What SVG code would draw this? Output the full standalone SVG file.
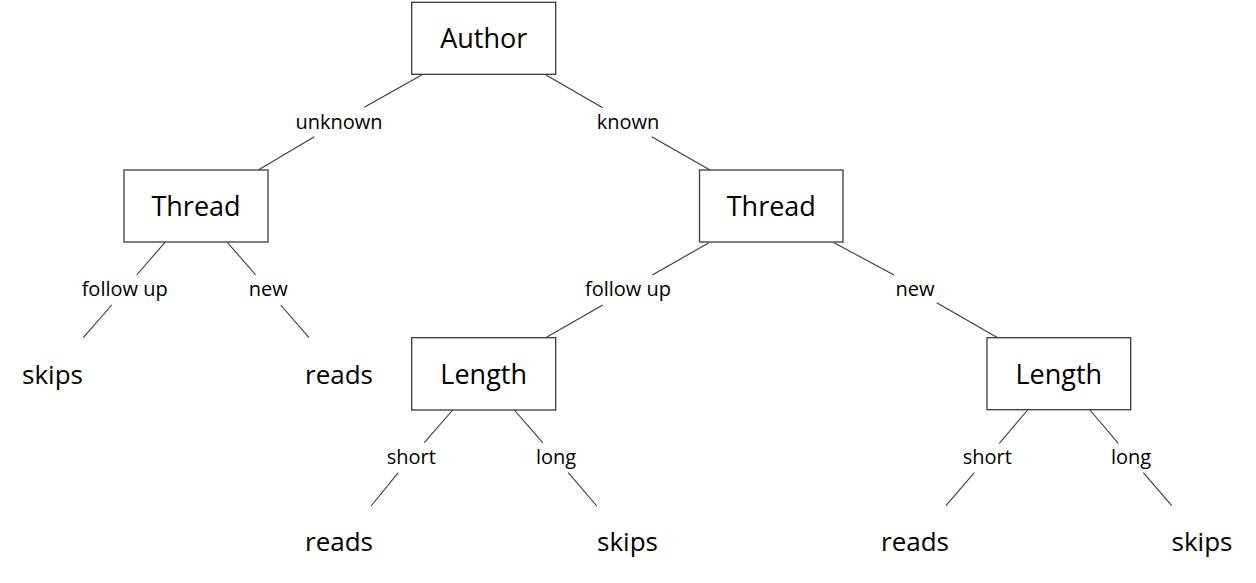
<svg xmlns="http://www.w3.org/2000/svg" width="1256" height="583" viewBox="0 0 1256 583">
<style>
.box{fill:#fff;stroke:#3a3a3a;stroke-width:1.3}
.node{font-family:"Open Sans","Liberation Sans",sans-serif;font-size:27px;fill:#000;text-anchor:middle}
.leaf{font-family:"Open Sans","Liberation Sans",sans-serif;font-size:26px;fill:#000;text-anchor:middle}
.lbl{font-family:"Open Sans","Liberation Sans",sans-serif;font-size:20px;fill:#000;text-anchor:middle}
.edge{stroke:#3a3a3a;stroke-width:1.1;fill:none}
</style>
<rect width="1256" height="583" fill="#fff"/>
<g id="connectors">
<line class="edge" x1="421.7" y1="75" x2="364.3" y2="107.3"/>
<line class="edge" x1="314.3" y1="136.7" x2="258.3" y2="170"/>
<line class="edge" x1="546" y1="75" x2="602.7" y2="107.7"/>
<line class="edge" x1="651.7" y1="136.7" x2="710" y2="170"/>
<line class="edge" x1="165" y1="242.3" x2="136.7" y2="275"/>
<line class="edge" x1="111.7" y1="305" x2="83.3" y2="337.7"/>
<line class="edge" x1="227.3" y1="242.3" x2="255.7" y2="275"/>
<line class="edge" x1="280.7" y1="305" x2="309" y2="337.7"/>
<line class="edge" x1="709" y1="242.7" x2="652.3" y2="275"/>
<line class="edge" x1="602.7" y1="305" x2="545.7" y2="337.7"/>
<line class="edge" x1="834" y1="242.7" x2="894" y2="275"/>
<line class="edge" x1="936.7" y1="302.7" x2="997.7" y2="337.7"/>
<line class="edge" x1="452.7" y1="410" x2="424.3" y2="442.7"/>
<line class="edge" x1="398.3" y1="472.7" x2="371" y2="506"/>
<line class="edge" x1="514.3" y1="410" x2="542.7" y2="442.7"/>
<line class="edge" x1="568.3" y1="472.7" x2="596.7" y2="506"/>
<line class="edge" x1="1027.7" y1="410" x2="999.3" y2="443.3"/>
<line class="edge" x1="974.3" y1="472.7" x2="946" y2="505.7"/>
<line class="edge" x1="1090" y1="410" x2="1118.3" y2="443.3"/>
<line class="edge" x1="1143.3" y1="472.7" x2="1171.7" y2="505.7"/>
</g>
<g id="edge-labels">
<text class="lbl" x="339" y="129">unknown</text>
<text class="lbl" x="628" y="129">known</text>
<text class="lbl" x="124.7" y="296">follow up</text>
<text class="lbl" x="268.3" y="296">new</text>
<text class="lbl" x="628" y="296">follow up</text>
<text class="lbl" x="915" y="296">new</text>
<text class="lbl" x="411.3" y="464">short</text>
<text class="lbl" x="556" y="464">long</text>
<text class="lbl" x="987.3" y="464">short</text>
<text class="lbl" x="1131" y="464">long</text>
</g>
<g id="author"><rect class="box" x="411.7" y="2.3" width="144" height="72"/><text class="node" x="483.7" y="48">Author</text></g>
<g id="thread-left"><rect class="box" x="124" y="170" width="144" height="72"/><text class="node" x="196" y="216">Thread</text></g>
<g id="thread-right"><rect class="box" x="699.5" y="170" width="143.5" height="72"/><text class="node" x="771.3" y="216">Thread</text></g>
<g id="length-left"><rect class="box" x="411.7" y="337.7" width="144" height="72.3"/><text class="node" x="483.7" y="384">Length</text></g>
<g id="length-right"><rect class="box" x="987" y="337.7" width="143.7" height="72"/><text class="node" x="1058.8" y="384">Length</text></g>
<g id="leaf-skips-1"><text class="leaf" x="52.5" y="384">skips</text></g>
<g id="leaf-reads-1"><text class="leaf" x="339" y="384">reads</text></g>
<g id="leaf-reads-2"><text class="leaf" x="339" y="551">reads</text></g>
<g id="leaf-skips-2"><text class="leaf" x="627.5" y="551">skips</text></g>
<g id="leaf-reads-3"><text class="leaf" x="915" y="551">reads</text></g>
<g id="leaf-skips-3"><text class="leaf" x="1202" y="551">skips</text></g>
</svg>
